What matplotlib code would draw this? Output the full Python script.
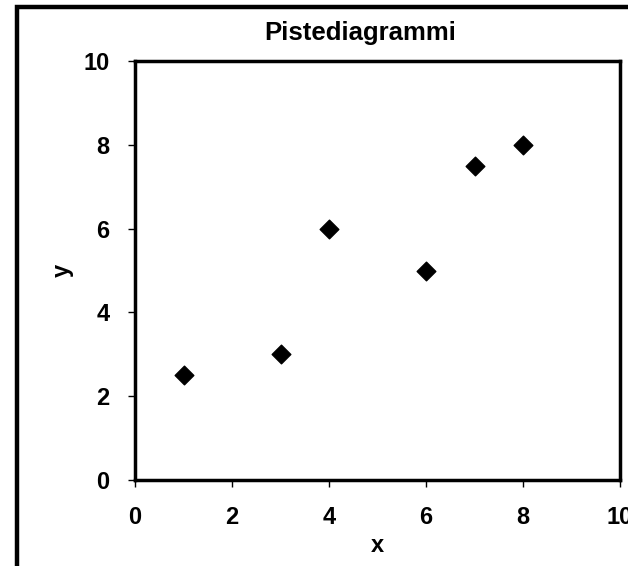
import matplotlib
matplotlib.use("Agg")
import matplotlib.pyplot as plt
from matplotlib.patches import Rectangle

x_vals = [1, 3, 4, 6, 7, 8]
y_vals = [2.5, 3, 6, 5, 7.5, 8]
x_ticks = [0, 2, 4, 6, 8, 10]
y_ticks = [0, 2, 4, 6, 8, 10]
title = "Pistediagrammi"

plt.rcParams['font.family'] = ['Liberation Sans', 'DejaVu Sans']
plt.rcParams['font.weight'] = 'bold'

W, H = 628, 566
fig = plt.figure(figsize=(W/100, H/100), dpi=100)

# outer chart frame (cropped at right/bottom)
fig.patches.append(Rectangle((16.5/W, -0.2), 1.5, (H - 7)/H + 0.2,
                             transform=fig.transFigure, fill=False,
                             edgecolor='black', linewidth=3.2))

ax = fig.add_axes([135/W, (H-480)/H, (620-135)/W, (480-61)/H])
ax.scatter(x_vals, y_vals, marker='D', s=90, color='black', zorder=3)
ax.set_xlim(0, 10)
ax.set_ylim(0, 10)
ax.set_xticks(x_ticks)
ax.set_yticks(y_ticks)
ax.set_xticklabels([str(t) for t in x_ticks], fontsize=17, fontweight='bold')
ax.set_yticklabels([str(t) for t in y_ticks], fontsize=17, fontweight='bold')
ax.tick_params(axis='x', direction='out', length=5, width=1, pad=13.5)
ax.tick_params(axis='y', direction='out', length=5, width=1, pad=13.5)
for sp in ax.spines.values():
    sp.set_linewidth(2.5)
ax.set_xlabel('x', fontsize=17, fontweight='bold', labelpad=4)
ax.set_ylabel('y', fontsize=17, fontweight='bold', labelpad=7)

fig.text(360/W, 1 - 33/H, title, fontsize=18.5, fontweight='bold',
         ha='center', va='center')

fig.savefig('out.png', dpi=100)
